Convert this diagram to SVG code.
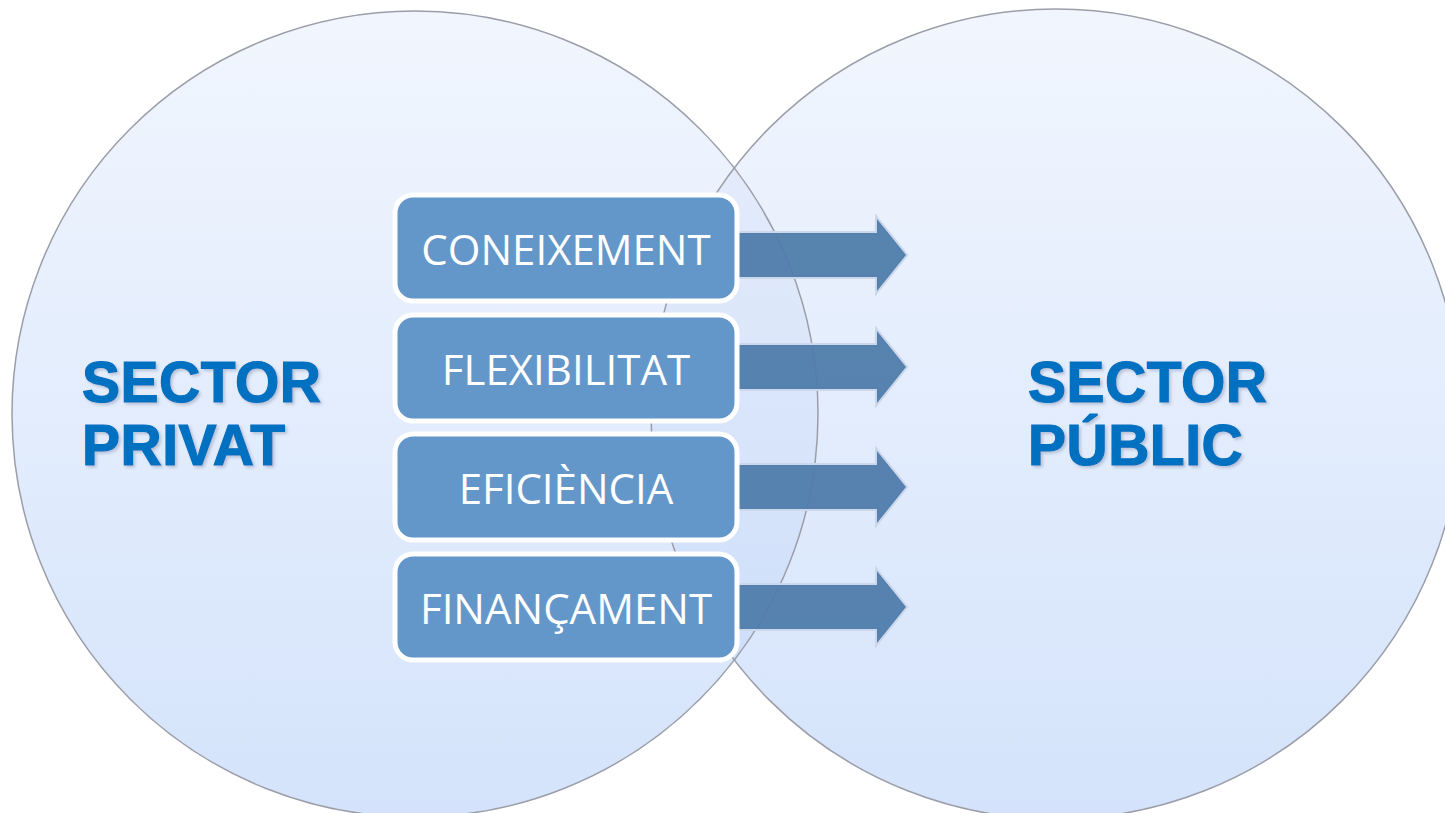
<svg xmlns="http://www.w3.org/2000/svg" width="1445" height="813" viewBox="0 0 1445 813">
<defs>
<linearGradient id="cg" gradientUnits="userSpaceOnUse" x1="0" y1="10" x2="0" y2="817">
<stop offset="0" stop-color="#f1f6fe"/>
<stop offset="1" stop-color="#d4e3fb"/>
</linearGradient>
<linearGradient id="lg" gradientUnits="userSpaceOnUse" x1="0" y1="165" x2="0" y2="660">
<stop offset="0" stop-color="#e3ebfb"/>
<stop offset="1" stop-color="#cfdffa"/>
</linearGradient>
<clipPath id="clipL"><circle cx="415" cy="414" r="403"/></clipPath>
<filter id="ts" x="-10%" y="-20%" width="120%" height="150%">
<feGaussianBlur in="SourceAlpha" stdDeviation="1.5"/>
<feOffset dx="2" dy="2" result="b"/>
<feFlood flood-color="#7d8ca8" flood-opacity="0.45"/>
<feComposite in2="b" operator="in"/>
<feMerge><feMergeNode/><feMergeNode in="SourceGraphic"/></feMerge>
</filter>
</defs>
<style>
.circ{fill:url(#cg);}
.edge{fill:none;stroke:#9b9ea9;stroke-width:1.5;}
.sector{font-family:"Liberation Sans",Arial,sans-serif;font-weight:bold;font-size:57px;letter-spacing:0.5px;fill:#0070c0;stroke:#0070c0;stroke-width:1.2;}
.box rect{fill:#6497c9;stroke:#ffffff;stroke-width:5;}
.box text{font-family:"Open Sans","Noto Sans",sans-serif;font-size:42px;fill:#ffffff;text-anchor:middle;}
.arrow{fill:#4f7cab;fill-opacity:0.95;stroke:#cbd7ea;stroke-width:4;stroke-linejoin:miter;paint-order:stroke;}
</style>
<rect width="1445" height="813" fill="#ffffff"/>
<g id="sector-privat">
<circle class="circ" cx="415" cy="414" r="403"/>
</g>
<g id="sector-public">
<circle class="circ" cx="1056" cy="414" r="405"/>
</g>
<circle cx="1056" cy="414" r="405" fill="url(#lg)" clip-path="url(#clipL)"/>
<circle class="edge" cx="415" cy="414" r="403"/>
<circle class="edge" cx="1056" cy="414" r="405"/>
<g id="label-privat" filter="url(#ts)">
<text class="sector" x="82" y="402">SECTOR</text>
<text class="sector" x="82" y="465">PRIVAT</text>
</g>
<g id="label-public" filter="url(#ts)">
<text class="sector" x="1028" y="402">SECTOR</text>
<text class="sector" x="1028" y="465">PÚBLIC</text>
</g>
<g id="connectors">
<polygon class="arrow" points="720,233 877,233 877,219 906,255 877,291 877,277 720,277"/>
<polygon class="arrow" points="720,345 877,345 877,331 906,367 877,403 877,389 720,389"/>
<polygon class="arrow" points="720,465 877,465 877,451 906,487 877,523 877,509 720,509"/>
<polygon class="arrow" points="720,585 877,585 877,571 906,607 877,643 877,629 720,629"/>
</g>
<g id="box-coneixement" class="box">
<rect x="395" y="195" width="342" height="106" rx="18"/>
<text x="566" y="265">CONEIXEMENT</text>
</g>
<g id="box-flexibilitat" class="box">
<rect x="395" y="315" width="342" height="106" rx="18"/>
<text x="566" y="385">FLEXIBILITAT</text>
</g>
<g id="box-eficiencia" class="box">
<rect x="395" y="434" width="342" height="106" rx="18"/>
<text x="566" y="504">EFICIÈNCIA</text>
</g>
<g id="box-financament" class="box">
<rect x="395" y="554" width="342" height="106" rx="18"/>
<text x="566" y="624">FINANÇAMENT</text>
</g>
</svg>
